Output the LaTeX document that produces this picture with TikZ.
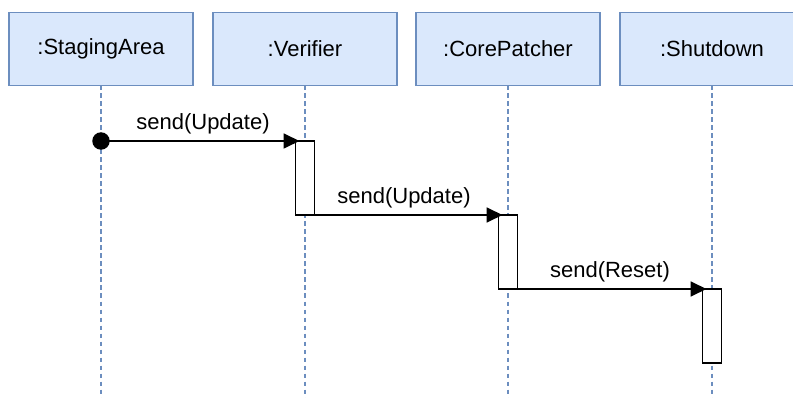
\documentclass[tikz,border=0pt]{standalone}
\usepackage{fontspec}
\setmainfont{Liberation Sans}
\usetikzlibrary{arrows.meta}
\definecolor{headfill}{HTML}{DAE8FC}
\definecolor{headline}{HTML}{6C8EBF}
\begin{document}
\begin{tikzpicture}[x=1pt,y=-1pt,
  every node/.style={font=\fontsize{22}{26}\selectfont},
  head/.style={draw=headline, fill=headfill, line width=1.5pt,
    minimum width=184pt, minimum height=73pt, inner sep=0pt, outer sep=0pt},
  lifeline/.style={draw=headline, line width=1.6pt, dash pattern=on 4.5pt off 3.5pt},
  activation/.style={draw=black, fill=white, line width=1.8pt,
    minimum width=19pt, minimum height=74pt, inner sep=0pt, outer sep=0pt},
  msg/.style={draw=black, line width=1.8pt,
    -{Triangle[length=16pt, width=15pt]}},
  msglabel/.style={inner sep=0pt},
  startdot/.style={circle, fill=black, minimum size=17.5pt, inner sep=0pt}]
  \useasboundingbox (0,0) rectangle (793,398);
  \clip (0,0) rectangle (793,398);

  % participant heads
  \node[head] (sa) at (101,49) {:StagingArea};
  \node[head] (ve) at (305,49) {:Verifier};
  \node[head] (cp) at (508,49) {:CorePatcher};
  \node[head] (sd) at (712,49) {:Shutdown};

  % lifeline ends
  \coordinate (saEnd) at (101,400);
  \coordinate (veEnd) at (305,400);
  \coordinate (cpEnd) at (508,400);
  \coordinate (sdEnd) at (712,400);

  \draw[lifeline] (sa.south) -- (saEnd);
  \draw[lifeline] (ve.south) -- (veEnd);
  \draw[lifeline] (cp.south) -- (cpEnd);
  \draw[lifeline] (sd.south) -- (sdEnd);

  % activation bars
  \node[activation] (actV) at (305,178) {};
  \node[activation] (actC) at (508,252) {};
  \node[activation] (actS) at (712,326) {};

  % messages
  \coordinate (startPt) at (101,141);
  \draw[msg] (startPt) -- ([xshift=4pt]actV.north west);
  \node[startdot] (start) at (startPt) {};
  \draw[msg] (actV.south west) -- ([xshift=4pt]actC.north west);
  \draw[msg] (actC.south west) -- ([xshift=4pt]actS.north west);

  % message labels
  \node[msglabel] (m1) at (203,124) {send(Update)};
  \node[msglabel] (m2) at (404,198) {send(Update)};
  \node[msglabel] (m3) at (610,272) {send(Reset)};
\end{tikzpicture}
\end{document}
